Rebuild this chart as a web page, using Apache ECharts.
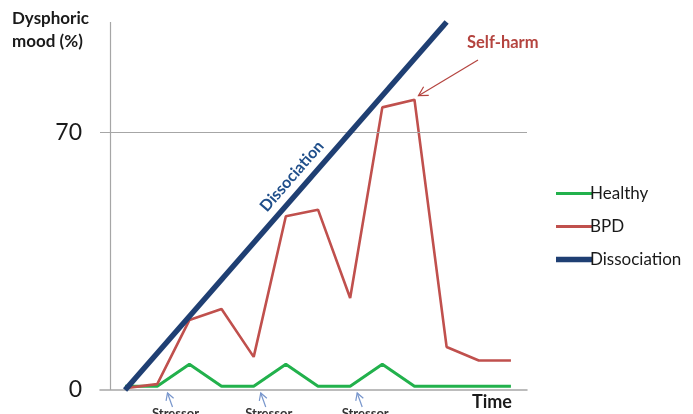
<!DOCTYPE html>
<html><head><meta charset="utf-8">
<script src="https://cdn.jsdelivr.net/npm/echarts@6/dist/echarts.min.js"></script>
<style>html,body{margin:0;padding:0;background:#fff}#c{width:693px;height:414px}</style>
</head><body><div id="c"></div>
<script>
const timeSteps = [0,1,2,3,4,5,6,7,8,9,10,11,12];
const healthy = [1,1,7,1,1,7,1,1,7,1,1,1,1];
const bpd = [0.5,1.6,19,22,9,47.2,49,25,76.8,78.9,11.7,8,8];
const dissociationX = [0,10];
const dissociationY = [0,100];
const yTicks = [0,70];
const stressorX = [1.35,4.25,7.25];
const FONT = 'Lato, "Open Sans", sans-serif';

const chart = echarts.init(document.getElementById('c'), null, {renderer:'canvas'});
const pair = (xs, ys) => xs.map((x,i)=>[x, ys[i]]);
chart.setOption({
  animation:false,
  grid:{left:100, right:166, top:22, bottom:24},
  xAxis:{type:'value', min:-0.78, max:12.5, axisLine:{lineStyle:{color:'#a6a6a6', width:1.5}}, axisTick:{show:false}, axisLabel:{show:false}, splitLine:{show:false}},
  yAxis:{type:'value', min:0, max:100, interval:70, axisLine:{show:false}, axisTick:{show:false}, splitLine:{show:false},
    axisLabel:{formatter:v=>yTicks.includes(v)?String(v):'', fontSize:23, color:'#1a1a1a', fontFamily:FONT, margin:18}},
  legend:{orient:'vertical', left:551, top:180, itemWidth:37, itemHeight:16, itemGap:16, symbolKeepAspect:true,
    textStyle:{fontSize:17, color:'#1a1a1a', fontFamily:FONT, padding:[0,0,0,-8]},
    data:[{name:'Healthy', icon:'path://M0,0L37,0L37,3L0,3Z', itemStyle:{color:'#22b14c'}},
          {name:'BPD', icon:'path://M0,0L37,0L37,3L0,3Z', itemStyle:{color:'#c0504d'}},
          {name:'Dissociation', icon:'path://M0,0L37,0L37,5.5L0,5.5Z', itemStyle:{color:'#1f3f73'}}]},
  series:[
    {name:'Healthy', type:'line', data:pair(timeSteps, healthy), symbol:'none', lineStyle:{color:'#22b14c', width:3}, itemStyle:{color:'#22b14c'}, z:3,
      markLine:{silent:true, symbol:'none', label:{show:false}, lineStyle:{color:'#a6a6a6', width:1.2, type:'solid'},
        data:[[{coord:[-0.78,70]},{coord:[12.5,70]}], [{coord:[-0.47,0]},{coord:[-0.47,100]}]]}},
    {name:'BPD', type:'line', data:pair(timeSteps, bpd), symbol:'none', lineStyle:{color:'#c0504d', width:2.6}, itemStyle:{color:'#c0504d'}, z:4},
    {name:'Dissociation', type:'line', data:pair(dissociationX, dissociationY), symbol:'none', clip:false, lineStyle:{color:'#1f3f73', width:5.5}, itemStyle:{color:'#1f3f73'}, z:5}
  ]
});

function px(x,y){return chart.convertToPixel({gridIndex:0},[x,y]);}
const g = [];
g.push({type:'text', left:12, top:7, style:{text:'Dysphoric\nmood (%)', font:'bold 17px '+FONT, fill:'#1a1a1a', lineHeight:23, align:'left'}});
g.push({type:'text', left:472, top:393, style:{text:'Time', font:'bold 18px '+FONT, fill:'#1a1a1a'}});
// Dissociation label along line
const a = px(0,0), b = px(10,100);
const ddx0=b[0]-a[0], ddy0=b[1]-a[1], L0=Math.hypot(ddx0,ddy0);
const ang = Math.atan2(-ddy0, ddx0);
const onLine = px(5.54,55.4);
const nx = ddy0/L0, ny = -ddx0/L0;
g.push({type:'text', x:onLine[0]+nx*15, y:onLine[1]+ny*15, rotation:ang, style:{text:'Dissociation', font:'bold 16px '+FONT, fill:'#1f4e8a', align:'center', verticalAlign:'middle'}});
// Self-harm
g.push({type:'text', left:467, top:34, style:{text:'Self-harm', font:'bold 16.5px '+FONT, fill:'#b4443f'}});
const sh = px(9,78.9);
g.push({type:'line', shape:{x1:478, y1:60, x2:sh[0]+4, y2:sh[1]-4}, style:{stroke:'#b4443f', lineWidth:1.2}});
const tip=[sh[0]+4, sh[1]-4];
const dx=478-tip[0], dy=60-tip[1], L=Math.hypot(dx,dy), ux=dx/L, uy=dy/L;
g.push({type:'polyline', shape:{points:[[tip[0]+ux*9-uy*5, tip[1]+uy*9+ux*5],[tip[0],tip[1]],[tip[0]+ux*9+uy*5, tip[1]+uy*9-ux*5]]}, style:{stroke:'#b4443f', lineWidth:1.2, fill:null}});
// Stressors
stressorX.forEach(sx=>{
  const p = px(sx,0);
  const t=[p[0]-1, p[1]+3], tail=[p[0]+4, p[1]+17];
  g.push({type:'line', shape:{x1:t[0],y1:t[1],x2:tail[0],y2:tail[1]}, style:{stroke:'#7896cc', lineWidth:1.2}});
  const ddx=tail[0]-t[0], ddy=tail[1]-t[1], LL=Math.hypot(ddx,ddy), vx=ddx/LL, vy=ddy/LL;
  g.push({type:'polyline', shape:{points:[[t[0]+vx*7-vy*4, t[1]+vy*7+vx*4],[t[0],t[1]],[t[0]+vx*7+vy*4, t[1]+vy*7-vx*4]]}, style:{stroke:'#7896cc', lineWidth:1.2, fill:null}});
  g.push({type:'text', x:p[0]+7, y:p[1]+17, style:{text:'Stressor', font:'bold 13px '+FONT, fill:'#333', align:'center', verticalAlign:'top'}});
});
chart.setOption({graphic:g});
</script></body></html>
